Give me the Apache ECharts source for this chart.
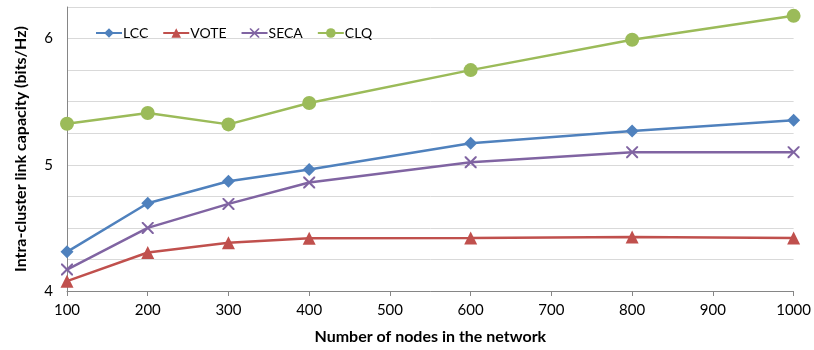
<!DOCTYPE html>
<html><head><meta charset="utf-8">
<script src="https://cdn.jsdelivr.net/npm/echarts@6/dist/echarts.min.js"></script>
<style>html,body{margin:0;padding:0;background:#fff}#c{width:814px;height:350px}</style>
</head><body><div id="c"></div>
<script>
const nodes = [100, 200, 300, 400, 600, 800, 1000];
const lcc  = [4.31, 4.695, 4.87, 4.963, 5.17, 5.268, 5.352];
const vote = [4.078, 4.305, 4.383, 4.417, 4.42, 4.427, 4.42];
const seca = [4.17, 4.5, 4.69, 4.86, 5.02, 5.1, 5.1];
const clq  = [5.325, 5.41, 5.32, 5.49, 5.75, 5.99, 6.18];
const seriesNames = ['LCC', 'VOTE', 'SECA', 'CLQ'];
const xTitle = 'Number of nodes in the network';
const yTitle = 'Intra-cluster link capacity (bits/Hz)';

const FONT = 'Lato';
const crossPath = 'path://M0,0L1.2,0L5,3.8L8.8,0L10,0L10,1.2L6.2,5L10,8.8L10,10L8.8,10L5,6.2L1.2,10L0,10L0,8.8L3.8,5L0,1.2Z';
const pair = arr => nodes.map((n, i) => [n, arr[i]]);

const styles = [
  {data: lcc, color: '#4F81BD', symbol: 'diamond', size: 13},
  {data: vote, color: '#C0504D', symbol: 'triangle', size: 13},
  {data: seca, color: '#8064A2', symbol: crossPath, size: 12},
  {data: clq, color: '#9BBB59', symbol: 'circle', size: 14}
];

const chart = echarts.init(document.getElementById('c'), null, {renderer: 'canvas'});
chart.setOption({
  animation: false,
  textStyle: {fontFamily: FONT},
  grid: {left: 67, right: 20, top: 7, bottom: 56, containLabel: false},
  legend: {
    left: 90, top: 21, itemWidth: 26, itemHeight: 12, itemGap: 14,
    textStyle: {fontFamily: FONT, fontSize: 14, color: '#000', padding: [0,0,0,-4]},
    data: seriesNames
  },
  xAxis: {
    type: 'value', min: 100, max: 1000, interval: 100,
    name: xTitle, nameLocation: 'middle', nameGap: 38,
    nameTextStyle: {fontFamily: FONT, fontSize: 16, fontWeight: 'bold', color: '#000'},
    axisLine: {show: true, lineStyle: {color: '#868686', width: 1}},
    axisTick: {show: true, length: 5, lineStyle: {color: '#868686'}},
    axisLabel: {fontFamily: FONT, fontSize: 15, color: '#000', margin: 12, formatter: v => String(v)},
    splitLine: {show: false}
  },
  yAxis: {
    type: 'value', min: 4, max: 6.25, interval: 0.25,
    name: yTitle, nameLocation: 'middle', nameGap: 38,
    nameTextStyle: {fontFamily: FONT, fontSize: 16, fontWeight: 'bold', color: '#000'},
    axisLine: {show: true, lineStyle: {color: '#868686', width: 1}},
    axisTick: {show: false},
    axisLabel: {fontFamily: FONT, fontSize: 15, color: '#000', margin: 14,
      formatter: v => Math.abs(v - Math.round(v)) < 1e-9 ? String(Math.round(v)) : ''},
    splitLine: {show: true, lineStyle: {color: '#D9D9D9', width: 1}}
  },
  series: styles.map((s, i) => ({
    name: seriesNames[i], type: 'line', data: pair(s.data),
    symbol: s.symbol, symbolSize: s.size, showAllSymbol: true,
    lineStyle: {color: s.color, width: 2.5},
    itemStyle: {color: s.color},
    emphasis: {disabled: true}
  }))
});
</script></body></html>
